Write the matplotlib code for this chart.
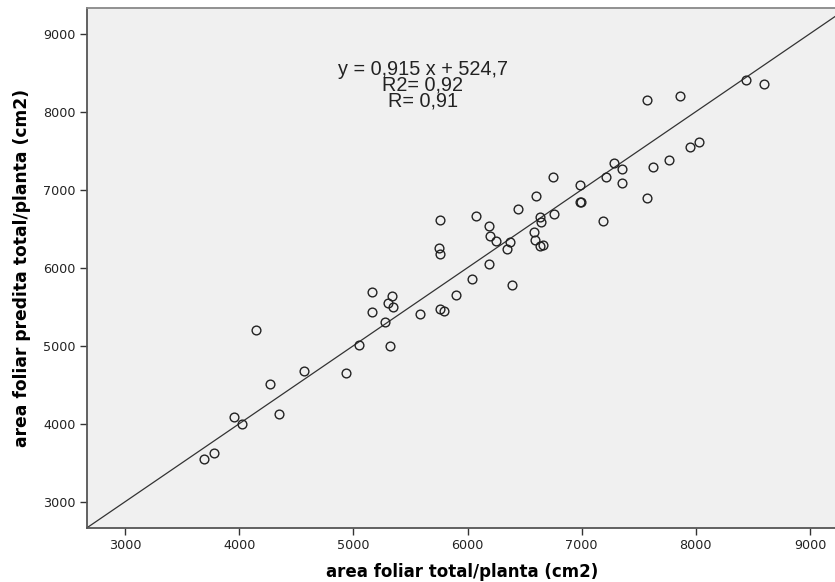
import matplotlib
matplotlib.use("Agg")
import matplotlib.pyplot as plt

area_total = [3695, 3775, 3955, 4020, 4150, 4265, 4350, 4570, 4935, 5050,
              5320, 5160, 5163, 5338, 5305, 5349, 5273, 5585, 5762, 5795,
              5897, 6043, 6187, 6386, 5759, 5752, 5760, 6072, 6192, 6200,
              6250, 6370, 6348, 6440, 6602, 6747, 6987, 6984, 6990, 6759,
              6636, 6641, 6578, 6592, 6634, 6660, 7185, 7287, 7349, 7217,
              7352, 7570, 7626, 7765, 7947, 8027, 7570, 7860, 8438, 8594]
area_pred = [3545, 3630, 4090, 3990, 5200, 4505, 4120, 4670, 4645, 5010,
             4990, 5690, 5437, 5637, 5541, 5498, 5308, 5410, 5466, 5448,
             5652, 5855, 6041, 5782, 6609, 6246, 6175, 6658, 6532, 6408,
             6336, 6325, 6236, 6751, 6920, 7163, 7057, 6840, 6842, 6689,
             6648, 6580, 6459, 6361, 6278, 6294, 6596, 7342, 7267, 7165,
             7085, 6899, 7289, 7386, 7548, 7606, 8144, 8195, 8412, 8350]

x_ticks = [3000, 4000, 5000, 6000, 7000, 8000, 9000]
y_ticks = [3000, 4000, 5000, 6000, 7000, 8000, 9000]
ref_intercept = 0.0
ref_slope = 1.0
annot_lines = ["y = 0,915 x + 524,7", "R2= 0,92", "R= 0,91"]

fig = plt.figure(figsize=(8.35, 5.82), dpi=100)
ax = fig.add_axes([87/835, 54/582, 1 - 87/835 + 0.002, 520/582])
ax.set_facecolor("#f0f0f0")
fig.patch.set_facecolor("white")

ax.axline((0, ref_intercept), slope=ref_slope, color="#333333", lw=0.9, zorder=2)
ax.plot(area_total, area_pred, linestyle="none", marker="o", markersize=6.3,
        markerfacecolor="none", markeredgecolor="#222222", markeredgewidth=1.0,
        zorder=3)

ax.set_xlim(2666, 9234)
ax.set_ylim(2663, 9329)
ax.set_xticks(x_ticks)
ax.set_yticks(y_ticks)
ax.set_xticklabels([str(v) for v in x_ticks])
ax.set_yticklabels([str(v) for v in y_ticks])
ax.tick_params(axis="both", direction="out", length=5, width=1.0,
               color="#333333", labelsize=9.2, labelcolor="#222222", pad=3)

for side in ["left", "bottom", "top"]:
    ax.spines[side].set_color("#555555")
    ax.spines[side].set_linewidth(1.3)
ax.spines["top"].set_color("#888888")
ax.spines["right"].set_visible(False)

ax.set_xlabel("area foliar total/planta (cm2)", fontsize=12,
              fontweight="bold", family="DejaVu Sans", labelpad=8)
ax.set_ylabel("area foliar predita total/planta (cm2)", fontsize=12.3,
              fontweight="bold", family="DejaVu Sans", labelpad=9)

ax.text(0.448, 0.852, "\n".join(annot_lines), transform=ax.transAxes,
        ha="center", va="center", multialignment="center", linespacing=0.78,
        fontsize=14.3, family="Liberation Sans", color="#222222")

fig.savefig("out.png", dpi=100)
